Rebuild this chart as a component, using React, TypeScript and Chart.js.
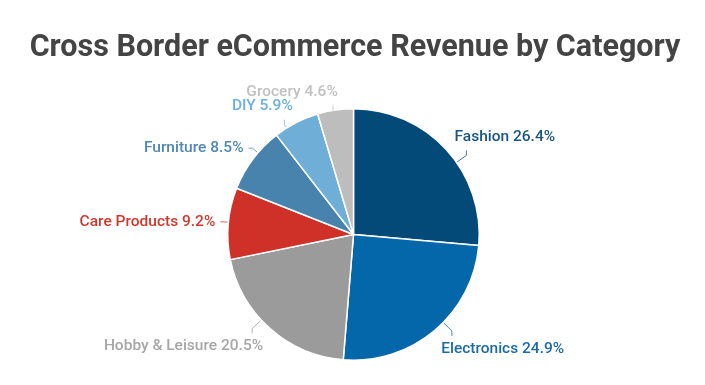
import React, { useEffect, useRef } from "react";
import { Chart, registerables } from "chart.js";

Chart.register(...registerables);

const categories = [
  "Fashion",
  "Electronics",
  "Hobby & Leisure",
  "Care Products",
  "Furniture",
  "DIY",
  "Grocery",
];
const shares = [26.4, 24.9, 20.5, 9.2, 8.5, 5.9, 4.6];
const sliceColors = ["#034a78", "#0467a9", "#9b9b9b", "#cf3027", "#4883ad", "#6faed6", "#bdbdbd"];
const labelColors = ["#1a5581", "#1c6aa6", "#a6a6a6", "#d0372c", "#4f88b2", "#6bb0e0", "#c0c0c0"];
const titleText = "Cross Border eCommerce Revenue by Category";

const titlePlugin = {
  id: "titleText",
  afterDraw(chart: any) {
    const ctx = chart.ctx;
    ctx.save();
    ctx.font = "bold 30.5px Roboto";
    ctx.fillStyle = "#444444";
    ctx.textAlign = "center";
    ctx.textBaseline = "alphabetic";
    ctx.fillText(titleText, chart.width / 2 + 2.5, 56);
    ctx.restore();
  },
};

const outsideLabels = {
  id: "outsideLabels",
  afterDatasetsDraw(chart: any) {
    const ctx = chart.ctx;
    const meta = chart.getDatasetMeta(0);
    ctx.save();
    ctx.font = "500 15.5px Roboto";
    meta.data.forEach((arc: any, i: number) => {
      const p = arc.getProps(["x", "y", "startAngle", "endAngle", "outerRadius"], true);
      const th = (p.startAngle + p.endAngle) / 2;
      const c = Math.cos(th);
      const s = Math.sin(th);
      const R = p.outerRadius + 18;
      const px = p.x + R * c - Math.sign(c) * 5;
      const py = p.y + R * s + Math.max(0, s) * 6;
      const vertical = Math.abs(s) > 0.63;
      let tx: number, ty: number, kx: number, ky: number;
      if (vertical) {
        tx = px + 12 * c + Math.sign(c) * 3;
        ty = py - Math.sign(s) * 13;
        kx = tx;
        ky = ty - Math.sign(s) * 5;
      } else {
        tx = px - Math.sign(c) * 5;
        ty = py;
        kx = tx - Math.sign(c) * 4;
        ky = ty;
      }
      const a = Math.atan2(ky - p.y, kx - p.x);
      const sx = p.x + (p.outerRadius + 1) * Math.cos(a);
      const sy = p.y + (p.outerRadius + 1) * Math.sin(a);
      ctx.strokeStyle = sliceColors[i];
      ctx.globalAlpha = 0.75;
      ctx.lineWidth = 1;
      ctx.beginPath();
      ctx.moveTo(sx, sy);
      ctx.lineTo(kx, ky);
      ctx.lineTo(tx, ty);
      ctx.stroke();
      ctx.globalAlpha = 1;
      ctx.fillStyle = labelColors[i];
      ctx.textAlign = c >= 0 ? "left" : "right";
      ctx.textBaseline = "middle";
      const text = `${categories[i]} ${shares[i].toFixed(1)}%`;
      ctx.fillText(text, px, py);
    });
    ctx.restore();
  },
};

export default function App() {
  const ref = useRef<HTMLCanvasElement | null>(null);
  useEffect(() => {
    document.body.style.margin = "0";
    const canvas = ref.current;
    if (!canvas) return;
    const chart = new Chart(canvas, {
      type: "pie",
      data: {
        labels: categories,
        datasets: [
          {
            data: shares,
            backgroundColor: sliceColors,
            borderColor: "#ffffff",
            borderWidth: 1.5,
          },
        ],
      },
      options: {
        responsive: false,
        animation: false,
        layout: { padding: { top: 108, bottom: 24, left: 227, right: 225 } },
        plugins: {
          legend: { display: false },
          tooltip: { enabled: false },
          title: { display: false },
        },
      },
      plugins: [outsideLabels, titlePlugin],
    });
    return () => chart.destroy();
  }, []);
  return (
    <div style={{ width: 705, height: 385, background: "#fff" }}>
      <canvas ref={ref} width={705} height={385} style={{ display: "block" }} />
    </div>
  );
}
